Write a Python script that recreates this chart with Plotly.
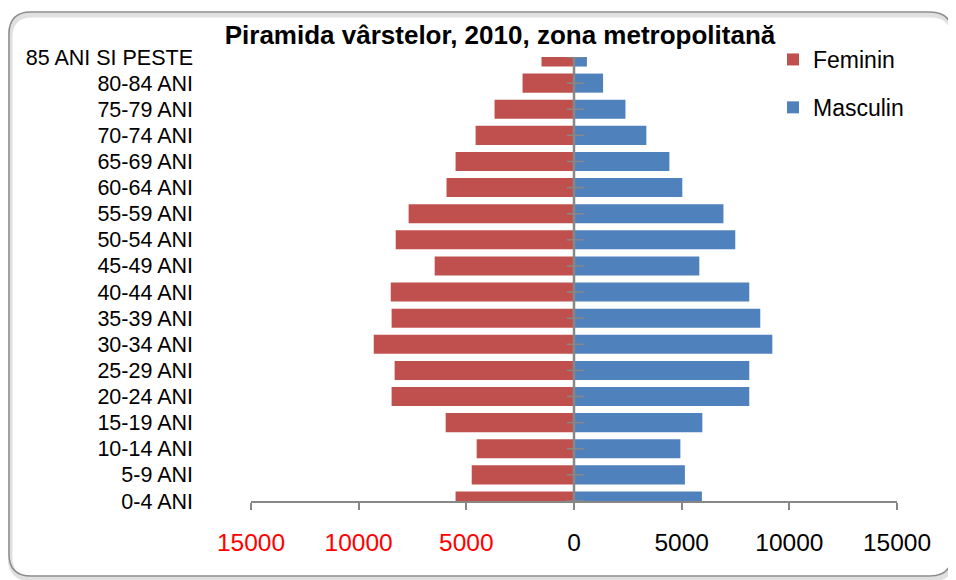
import plotly.graph_objects as go

categories = ["0-4 ANI", "5-9 ANI", "10-14 ANI", "15-19 ANI", "20-24 ANI", "25-29 ANI",
              "30-34 ANI", "35-39 ANI", "40-44 ANI", "45-49 ANI", "50-54 ANI", "55-59 ANI",
              "60-64 ANI", "65-69 ANI", "70-74 ANI", "75-79 ANI", "80-84 ANI", "85 ANI SI PESTE"]
feminin = [5500, 4750, 4520, 5960, 8470, 8330, 9300, 8470, 8510, 6470, 8280, 7680,
           5920, 5500, 4570, 3690, 2390, 1510]
masculin = [5940, 5150, 4940, 5960, 8140, 8140, 9210, 8650, 8140, 5820, 7490, 6940,
            5030, 4430, 3360, 2390, 1350, 600]
tick_vals = [-15000, -10000, -5000, 0, 5000, 10000, 15000]
tick_text = ["<span style='color:#FF0000'>15000</span>",
             "<span style='color:#FF0000'>10000</span>",
             "<span style='color:#FF0000'>5000</span>",
             "0", "5000", "10000", "15000"]

# the page body has an 8px margin; work in page pixels and shift
OFF = 8
W, H = 956 - OFF, 580 - OFF
L_PX, R_PX, T_PX, B_PX = 251, 897, 57, 501   # plot area in page pixels
ML, MT = L_PX - OFF, T_PX - OFF
MR, MB = W - (R_PX - OFF), H - (B_PX - OFF)
PW, PH = R_PX - L_PX, B_PX - T_PX


def px(x):
    return (x - L_PX) / PW


def py(y):
    return (B_PX - y) / PH


FONT = "Liberation Sans"

fig = go.Figure()
fig.add_trace(go.Bar(y=categories, x=[-v for v in feminin], orientation="h",
                     name="Feminin", marker=dict(color="#C0504D", line=dict(width=0)),
                     legendgroup="f"))
fig.add_trace(go.Bar(y=categories, x=masculin, orientation="h",
                     name="Masculin", marker=dict(color="#4F81BD", line=dict(width=0)),
                     legendgroup="m"))

# rounded chart border (page pixels)
x0, y0, x1, y1, r = 9, 12, 952, 576, 22


def rr(dx=0, dy=0):
    a, b, c, d = x0 + dx, y0 + dy, x1 + dx, y1 + dy
    pts = [
        f"M {px(a + r)},{py(b)}", f"L {px(c - r)},{py(b)}",
        f"Q {px(c)},{py(b)} {px(c)},{py(b + r)}", f"L {px(c)},{py(d - r)}",
        f"Q {px(c)},{py(d)} {px(c - r)},{py(d)}", f"L {px(a + r)},{py(d)}",
        f"Q {px(a)},{py(d)} {px(a)},{py(d - r)}", f"L {px(a)},{py(b + r)}",
        f"Q {px(a)},{py(b)} {px(a + r)},{py(b)}", "Z"]
    return " ".join(pts)


shapes = [
    dict(type="path", xref="paper", yref="paper", path=rr(1, 3),
         line=dict(color="rgba(0,0,0,0.12)", width=5), layer="below"),
    dict(type="path", xref="paper", yref="paper", path=rr(),
         line=dict(color="#8C8C8C", width=1.5), layer="below"),
    dict(type="line", xref="x", yref="paper", x0=0, x1=0, y0=0, y1=1,
         line=dict(color="#878787", width=2.5), layer="above"),
]
for c in categories:
    shapes.append(dict(type="line", xref="x", yref="y", x0=-330, x1=480, y0=c, y1=c,
                       line=dict(color="#878787", width=1.5), layer="above"))

fig.update_layout(
    width=W, height=H,
    margin=dict(l=ML, r=MR, t=MT, b=MB),
    paper_bgcolor="white", plot_bgcolor="white",
    barmode="relative", bargap=0.27,
    font=dict(family=FONT, color="black"),
    title=dict(text="<b>Piramida vârstelor, 2010, zona metropolitană</b>",
               x=(500 - OFF) / W, xanchor="center", y=1 - (35 - OFF) / H, yanchor="middle",
               font=dict(size=26, family=FONT, color="black")),
    xaxis=dict(range=[-15000, 15000], tickvals=tick_vals, ticktext=tick_text,
               showgrid=False, zeroline=False, showline=True, linecolor="#878787",
               linewidth=1.5, ticks="outside", ticklen=7, tickcolor="#878787",
               tickwidth=1.5, ticklabelstandoff=12,
               tickfont=dict(size=24.5, family=FONT, color="black"), fixedrange=True),
    yaxis=dict(type="category", range=[0, 17], showgrid=False, zeroline=False,
               showline=False, ticks="", ticklabelstandoff=57,
               tickfont=dict(size=21.5, family=FONT, color="black"), fixedrange=True),
    legend=dict(x=px(773), y=py(38), xanchor="left", yanchor="top",
                traceorder="grouped", tracegroupgap=15,
                font=dict(size=23, family=FONT, color="black"),
                bgcolor="rgba(0,0,0,0)"),
    shapes=shapes,
    showlegend=True,
)

fig.write_html("out.html")
